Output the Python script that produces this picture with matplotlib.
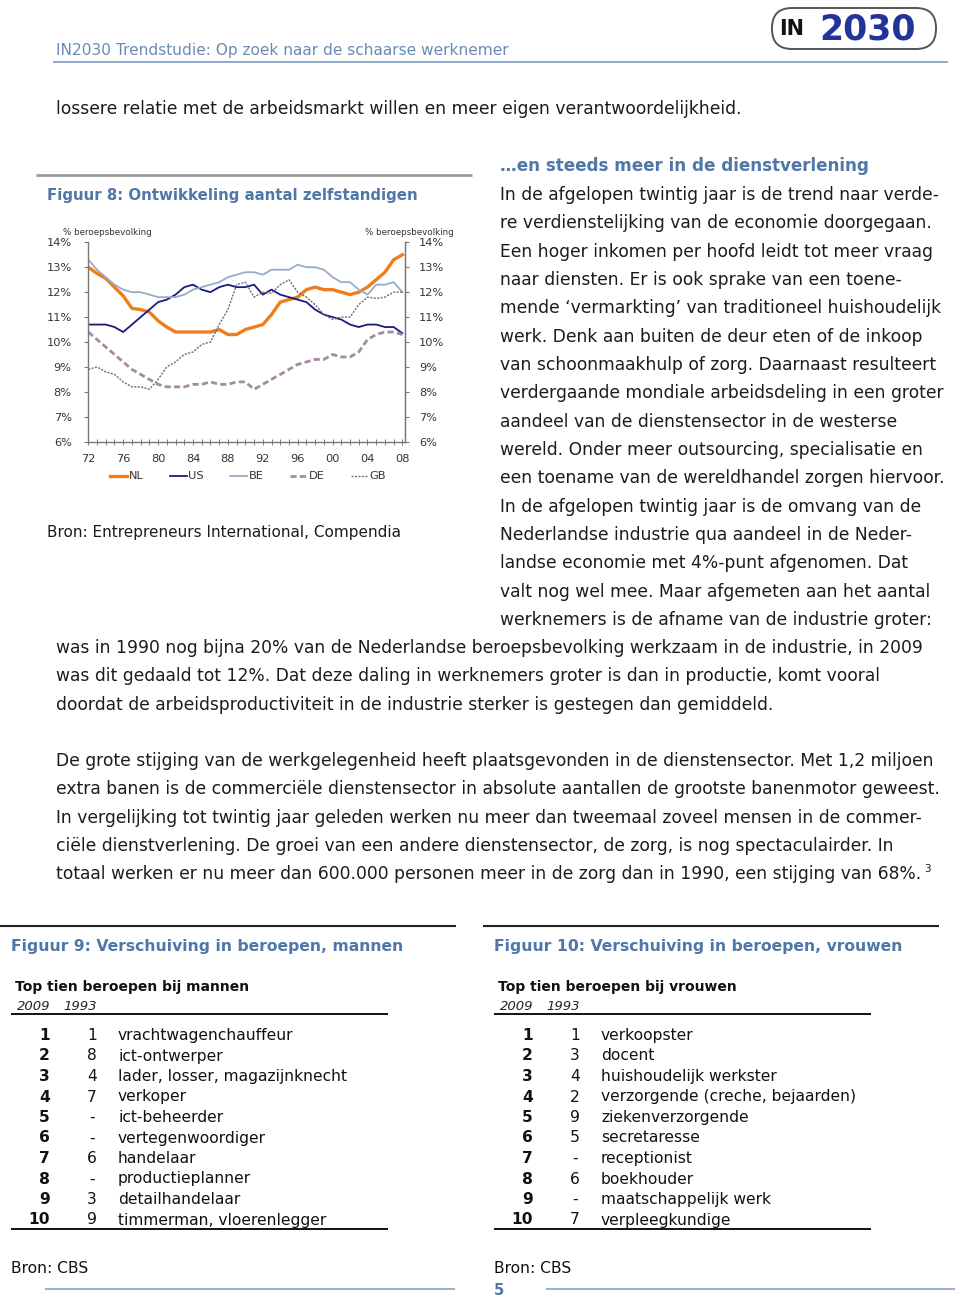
import matplotlib
matplotlib.use("Agg")
import matplotlib.pyplot as plt
from matplotlib.patches import FancyBboxPatch

# ---------------- data ----------------
years = list(range(1972, 2009))
nl = [13.0, 12.75, 12.55, 12.2, 11.85, 11.35, 11.3, 11.2, 10.85, 10.6,
      10.4, 10.4, 10.4, 10.4, 10.4, 10.5, 10.3, 10.3, 10.5, 10.6,
      10.7, 11.1, 11.6, 11.7, 11.8, 12.1, 12.2, 12.1, 12.1, 12.0,
      11.9, 12.0, 12.2, 12.5, 12.8, 13.3, 13.5]
us = [10.7, 10.7, 10.7, 10.6, 10.4, 10.7, 11.0, 11.3, 11.6, 11.7,
      11.9, 12.2, 12.3, 12.1, 12.0, 12.2, 12.3, 12.2, 12.2, 12.3,
      11.9, 12.1, 11.9, 11.8, 11.7, 11.6, 11.3, 11.1, 11.0, 10.9,
      10.7, 10.6, 10.7, 10.7, 10.6, 10.6, 10.35]
be = [13.3, 12.9, 12.6, 12.3, 12.1, 12.0, 12.0, 11.9, 11.8, 11.8,
      11.8, 11.9, 12.1, 12.2, 12.3, 12.4, 12.6, 12.7, 12.8, 12.8,
      12.7, 12.9, 12.9, 12.9, 13.1, 13.0, 13.0, 12.9, 12.6, 12.4,
      12.4, 12.1, 11.9, 12.3, 12.3, 12.4, 12.0]
de = [10.4, 10.1, 9.8, 9.5, 9.2, 8.9, 8.7, 8.5, 8.3, 8.2,
      8.2, 8.2, 8.3, 8.3, 8.4, 8.3, 8.3, 8.4, 8.4, 8.1,
      8.3, 8.5, 8.7, 8.9, 9.1, 9.2, 9.3, 9.3, 9.5, 9.4,
      9.4, 9.6, 10.1, 10.3, 10.4, 10.4, 10.3]
gb = [8.9, 9.0, 8.8, 8.7, 8.4, 8.2, 8.2, 8.1, 8.5, 9.0,
      9.2, 9.5, 9.6, 9.9, 10.0, 10.7, 11.3, 12.3, 12.4, 11.8,
      12.0, 11.95, 12.3, 12.5, 12.0, 11.8, 11.5, 11.1, 10.9, 11.0,
      11.0, 11.5, 11.8, 11.75, 11.8, 12.0, 12.0]
series_names = ["NL", "US", "BE", "DE", "GB"]
y_ticks = [6, 7, 8, 9, 10, 11, 12, 13, 14]
x_ticks = [1972, 1976, 1980, 1984, 1988, 1992, 1996, 2000, 2004, 2008]

header = "IN2030 Trendstudie: Op zoek naar de schaarse werknemer"
intro_line = "lossere relatie met de arbeidsmarkt willen en meer eigen verantwoordelijkheid."
fig8_title = "Figuur 8: Ontwikkeling aantal zelfstandigen"
fig8_source = "Bron: Entrepreneurs International, Compendia"
axis_unit = "% beroepsbevolking"
section_title = "…en steeds meer in de dienstverlening"
right_col_lines = [
    "In de afgelopen twintig jaar is de trend naar verde-",
    "re verdienstelijking van de economie doorgegaan.",
    "Een hoger inkomen per hoofd leidt tot meer vraag",
    "naar diensten. Er is ook sprake van een toene-",
    "mende ‘vermarkting’ van traditioneel huishoudelijk",
    "werk. Denk aan buiten de deur eten of de inkoop",
    "van schoonmaakhulp of zorg. Daarnaast resulteert",
    "verdergaande mondiale arbeidsdeling in een groter",
    "aandeel van de dienstensector in de westerse",
    "wereld. Onder meer outsourcing, specialisatie en",
    "een toename van de wereldhandel zorgen hiervoor.",
    "In de afgelopen twintig jaar is de omvang van de",
    "Nederlandse industrie qua aandeel in de Neder-",
    "landse economie met 4%-punt afgenomen. Dat",
    "valt nog wel mee. Maar afgemeten aan het aantal",
    "werknemers is de afname van de industrie groter:",
]
full_lines_1 = [
    "was in 1990 nog bijna 20% van de Nederlandse beroepsbevolking werkzaam in de industrie, in 2009",
    "was dit gedaald tot 12%. Dat deze daling in werknemers groter is dan in productie, komt vooral",
    "doordat de arbeidsproductiviteit in de industrie sterker is gestegen dan gemiddeld.",
]
full_lines_2 = [
    "De grote stijging van de werkgelegenheid heeft plaatsgevonden in de dienstensector. Met 1,2 miljoen",
    "extra banen is de commerciële dienstensector in absolute aantallen de grootste banenmotor geweest.",
    "In vergelijking tot twintig jaar geleden werken nu meer dan tweemaal zoveel mensen in de commer-",
    "ciële dienstverlening. De groei van een andere dienstensector, de zorg, is nog spectaculairder. In",
    "totaal werken er nu meer dan 600.000 personen meer in de zorg dan in 1990, een stijging van 68%.",
]
footnote = "3"

fig9_title = "Figuur 9: Verschuiving in beroepen, mannen"
fig9_sub = "Top tien beroepen bij mannen"
men_rank_2009 = ["1", "2", "3", "4", "5", "6", "7", "8", "9", "10"]
men_rank_1993 = ["1", "8", "4", "7", "-", "-", "6", "-", "3", "9"]
men_jobs = ["vrachtwagenchauffeur", "ict-ontwerper", "lader, losser, magazijnknecht",
            "verkoper", "ict-beheerder", "vertegenwoordiger", "handelaar",
            "productieplanner", "detailhandelaar", "timmerman, vloerenlegger"]
fig10_title = "Figuur 10: Verschuiving in beroepen, vrouwen"
fig10_sub = "Top tien beroepen bij vrouwen"
women_rank_2009 = ["1", "2", "3", "4", "5", "6", "7", "8", "9", "10"]
women_rank_1993 = ["1", "3", "4", "2", "9", "5", "-", "6", "-", "7"]
women_jobs = ["verkoopster", "docent", "huishoudelijk werkster",
              "verzorgende (creche, bejaarden)", "ziekenverzorgende", "secretaresse",
              "receptionist", "boekhouder", "maatschappelijk werk", "verpleegkundige"]
year_col_a = "2009"
year_col_b = "1993"
table_source = "Bron: CBS"
page_number = "5"

# ---------------- styles ----------------
W, H = 960, 1300
FONT = "DejaVu Sans"
plt.rcParams["font.family"] = [FONT]
BLUE = "#4f77a8"
HBLUE = "#6a8bb3"
TXT = "#1c1c1c"
BODY = 12.3
colors = {"NL": "#ee7d1c", "US": "#1b1b7c", "BE": "#96adc9", "DE": "#a48aa4", "GB": "#6e6e6e"}

fig = plt.figure(figsize=(W / 100, H / 100), dpi=100)
bg = fig.add_axes([0, 0, 1, 1])
bg.set_xlim(0, W)
bg.set_ylim(H, 0)
bg.axis("off")


def t(x, y, s, size=BODY, color=TXT, weight="normal", style="normal", ha="left", va="baseline", **kw):
    return bg.text(x, y, s, fontsize=size, color=color, fontweight=weight,
                   fontstyle=style, ha=ha, va=va, **kw)


def hline(x0, x1, y, color="#333333", lw=1.2):
    bg.plot([x0, x1], [y, y], color=color, lw=lw, solid_capstyle="butt")


# header
t(56, 55, header, size=11.1, color=HBLUE)
hline(53, 948, 61.5, color="#7b9cc4", lw=1.2)
logo = FancyBboxPatch((772, 8), 164, 41, boxstyle="round,pad=0,rounding_size=20",
                      fc="white", ec="#555555", lw=1.4)
bg.add_patch(logo)
t(792, 29, "IN", size=15, color="#111111", weight="bold", ha="center", va="center")
t(868, 29.5, "2030", size=25, color="#22339a", weight="heavy", ha="center", va="center")

# intro line
t(56, 114, intro_line)

# figure 8
hline(36, 472, 175, color="#9a9a9a", lw=2)
t(47, 200, fig8_title, size=10.8, color=BLUE, weight="bold")
t(47, 537, fig8_source, size=10.95)

ax = fig.add_axes([88.3 / W, 1 - 441.7 / H, (405 - 88.3) / W, (441.7 - 242.3) / H])
styles = {
    "NL": dict(lw=2.4, ls="-"),
    "US": dict(lw=1.3, ls="-"),
    "BE": dict(lw=1.3, ls="-"),
    "DE": dict(lw=2.0, ls=(0, (2.2, 1.2))),
    "GB": dict(lw=1.0, ls=(0, (1.5, 1.0))),
}
data = {"NL": nl, "US": us, "BE": be, "DE": de, "GB": gb}
handles = []
for name in series_names:
    (h,) = ax.plot(years, data[name], color=colors[name], label=name, **styles[name])
    handles.append(h)
ax.set_xlim(1972, 2008.3)
ax.set_ylim(6, 14)
ax.set_yticks(y_ticks)
ax.set_yticklabels([f"{v}%" for v in y_ticks])
ax.set_xticks(x_ticks)
ax.set_xticklabels([str(v)[-2:] for v in x_ticks])
ax.set_xticks(years, minor=True)
ax.spines["top"].set_visible(False)
for s in ["left", "right", "bottom"]:
    ax.spines[s].set_color("#777777")
    ax.spines[s].set_linewidth(1.0)
ax.tick_params(axis="y", direction="out", length=3, width=0.8, color="#777777",
               labelsize=8.2, labelcolor="#333333", pad=9)
ax.tick_params(axis="x", which="both", direction="inout", length=5, width=0.7,
               color="#777777", labelsize=8.2, labelcolor="#333333", pad=6)
ax2 = ax.twinx()
ax2.set_ylim(6, 14)
ax2.set_yticks(y_ticks)
ax2.set_yticklabels([f"{v}%" for v in y_ticks])
for s in ["top", "left", "bottom"]:
    ax2.spines[s].set_visible(False)
ax2.spines["right"].set_color("#777777")
ax2.tick_params(axis="y", direction="out", length=3, width=0.8, color="#777777",
                labelsize=8.2, labelcolor="#333333", pad=7)
t(63, 235, axis_unit, size=6.3, color="#333333")
t(365, 235, axis_unit, size=6.3, color="#333333")
fig.legend(handles, series_names, loc="center", ncol=5,
           bbox_to_anchor=(248 / W, 1 - 476.5 / H), frameon=False,
           fontsize=8.2, handlelength=1.5, handletextpad=0.15, columnspacing=2.3,
           labelcolor="#333333")

# right column text
t(500, 171, section_title, size=12.05, color=BLUE, weight="bold")
for i, line in enumerate(right_col_lines):
    t(500, 200 + i * 28.33, line)
for i, line in enumerate(full_lines_1):
    t(56, 653 + i * 28.33, line)
last = None
for i, line in enumerate(full_lines_2):
    last = t(56, 766 + i * 28.33, line)
fig.canvas.draw()
bb = last.get_window_extent()
t(bb.x1 + 3, 872, footnote, size=7.5)


# tables
def table(x0, title, sub, r09, r93, jobs):
    hline(x0 - 11, x0 + 445, 926, color="#222222", lw=1.5)
    t(x0, 951, title, size=11.25, color=BLUE, weight="bold")
    t(x0 + 4, 991, sub, size=10, weight="bold", color="#111111")
    t(x0 + 6, 1009.5, year_col_a, size=9.5, style="italic", color="#222222")
    t(x0 + 52, 1009.5, year_col_b, size=9.5, style="italic", color="#222222")
    hline(x0, x0 + 377, 1014, color="#111111", lw=1.4)
    for i in range(len(jobs)):
        y = 1040 + i * 20.5
        t(x0 + 39, y, r09[i], size=11.2, weight="bold", ha="right", color="#111111")
        t(x0 + 81, y, r93[i], size=11.2, ha="center", color="#111111")
        t(x0 + 107, y, jobs[i], size=11.2, color="#111111")
    hline(x0, x0 + 377, 1229, color="#111111", lw=1.4)
    t(x0, 1273, table_source, size=11.2, color="#111111")


table(11, fig9_title, fig9_sub, men_rank_2009, men_rank_1993, men_jobs)
table(494, fig10_title, fig10_sub, women_rank_2009, women_rank_1993, women_jobs)

t(494, 1295, page_number, size=10.5, color=BLUE, weight="bold")
hline(45, 455, 1289, color="#8aa4c4", lw=1.2)
hline(546, 955, 1289, color="#8aa4c4", lw=1.2)

fig.savefig("out.png", dpi=100)
